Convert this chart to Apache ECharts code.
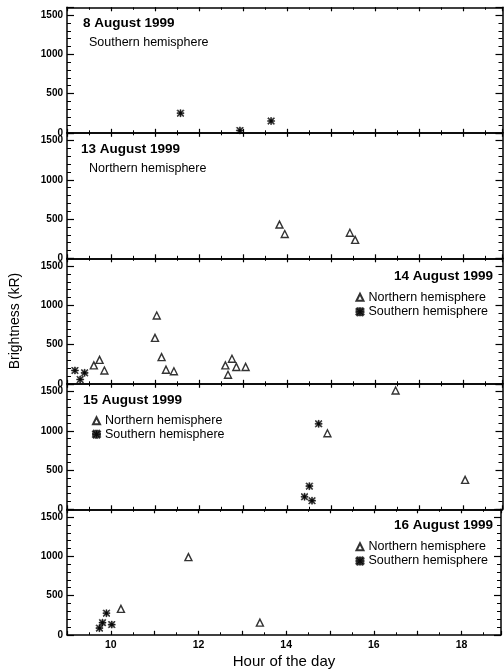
<!DOCTYPE html>
<html><head><meta charset="utf-8">
<script src="https://cdn.jsdelivr.net/npm/echarts@6/dist/echarts.min.js"></script>
<style>html,body{margin:0;padding:0;background:#fff}#c{width:504px;height:672px}</style>
</head><body><div id="c"></div>
<script>
// ---- data ----
const panelDates = ['8 August 1999', '13 August 1999', '14 August 1999', '15 August 1999', '16 August 1999'];
const seriesNames = ['Northern hemisphere', 'Southern hemisphere'];

const aug08SouthHour = [11.58, 12.93, 13.64];
const aug08SouthKR   = [250, 30, 150];

const aug13NorthHour = [13.83, 13.95, 15.43, 15.55];
const aug13NorthKR   = [430, 310, 325, 235];

const aug14NorthHour = [9.61, 9.74, 9.85, 11.00, 11.04, 11.15, 11.25, 11.43, 12.60, 12.66, 12.75, 12.85, 13.06];
const aug14NorthKR   = [235, 305, 170, 585, 870, 340, 180, 160, 235, 115, 320, 215, 215];
const aug14SouthHour = [9.18, 9.30, 9.40];
const aug14SouthKR   = [170, 55, 140];

const aug15NorthHour = [14.92, 16.47, 18.05];
const aug15NorthKR   = [970, 1515, 375];
const aug15SouthHour = [14.40, 14.51, 14.57, 14.72];
const aug15SouthKR   = [160, 295, 110, 1090];

const aug16NorthHour = [10.23, 11.77, 13.40];
const aug16NorthKR   = [330, 990, 155];
const aug16SouthHour = [9.74, 9.81, 9.90, 10.02];
const aug16SouthKR   = [85, 155, 275, 130];

const xLabelHours = [10, 12, 14, 16, 18];
const yLabelValues = [0, 500, 1000, 1500];

// ---- layout / style ----
const FONT = 'Liberation Sans';
const PANEL_TOP = 7.3, PANEL_H = 125.5, LEFT = 67, RIGHT = 1.5;
const X_MIN = 9, X_MAX = 18.9, Y_MIN = 0, Y_MAX = 1600;
const STAR = 'path://M4.2,0H5.8V10H4.2Z M0,4.2H10V5.8H0Z M1.1,0L10,8.9L8.9,10L0,1.1Z M8.9,0L10,1.1L1.1,10L0,8.9Z';
const lineStyle = { color: '#000', width: 1.5 };

const grids = [], xAxes = [], yAxes = [];
for (let k = 0; k < 5; k++) {
  grids.push({ left: LEFT, right: RIGHT, top: PANEL_TOP + k * PANEL_H, height: PANEL_H });
  const baseX = { type: 'value', gridIndex: k, min: X_MIN, max: X_MAX, splitLine: { show: false } };
  ['bottom', 'top'].forEach(pos => {
    xAxes.push(Object.assign({}, baseX, {
      position: pos, interval: 1,
      axisLine: { show: true, onZero: false, lineStyle },
      axisTick: { inside: true, length: 4, lineStyle: { color: '#000', width: 1.2 } },
      axisLabel: (pos === 'bottom' && k === 4) ? {
        show: true, margin: 5, color: '#000', fontFamily: FONT, fontSize: 10.5, fontWeight: 'bold',
        formatter: v => xLabelHours.includes(v) ? String(v) : ''
      } : { show: false },
      name: (pos === 'bottom' && k === 4) ? 'Hour of the day' : '',
      nameLocation: 'middle', nameGap: 20,
      nameTextStyle: { color: '#000', fontFamily: FONT, fontSize: 15 }
    }));
    xAxes.push(Object.assign({}, baseX, {
      position: pos, interval: 0.5,
      axisLine: { show: false, onZero: false },
      axisTick: { inside: true, length: 2.5, lineStyle: { color: '#000', width: 1 } },
      axisLabel: { show: false }
    }));
  });
  const baseY = { type: 'value', gridIndex: k, min: Y_MIN, max: Y_MAX, splitLine: { show: false } };
  ['left', 'right'].forEach(pos => {
    yAxes.push(Object.assign({}, baseY, {
      position: pos, interval: 500,
      axisLine: { show: true, onZero: false, lineStyle },
      axisTick: { inside: true, length: 7, lineStyle: { color: '#000', width: 1.2 } },
      axisLabel: pos === 'left' ? {
        show: true, margin: 4, color: '#000', fontFamily: FONT, fontSize: 10, fontWeight: 'bold',
        formatter: v => yLabelValues.includes(v) ? String(v) : ''
      } : { show: false },
      name: (pos === 'left' && k === 2) ? 'Brightness (kR)' : '',
      nameLocation: 'middle', nameGap: 45,
      nameTextStyle: { color: '#000', fontFamily: FONT, fontSize: 14 }
    }));
    yAxes.push(Object.assign({}, baseY, {
      position: pos, interval: 100,
      axisLine: { show: false, onZero: false },
      axisTick: { inside: true, length: 4, lineStyle: { color: '#000', width: 1 } },
      axisLabel: { show: false }
    }));
  });
}

function zip(h, v) { return h.map((x, i) => [x, v[i]]); }
function north(k, h, v) {
  return { type: 'scatter', name: seriesNames[0], xAxisIndex: 4 * k, yAxisIndex: 4 * k,
    symbol: 'triangle', symbolSize: 7, data: zip(h, v),
    itemStyle: { color: '#fff', borderColor: '#000', borderWidth: 1.4 } };
}
function south(k, h, v) {
  return { type: 'scatter', name: seriesNames[1], xAxisIndex: 4 * k, yAxisIndex: 4 * k,
    symbol: STAR, symbolSize: 7, data: zip(h, v),
    itemStyle: { color: '#000', borderColor: '#000', borderWidth: 0.6 } };
}
const series = [
  south(0, aug08SouthHour, aug08SouthKR),
  north(1, aug13NorthHour, aug13NorthKR),
  north(2, aug14NorthHour, aug14NorthKR),
  south(2, aug14SouthHour, aug14SouthKR),
  north(3, aug15NorthHour, aug15NorthKR),
  south(3, aug15SouthHour, aug15SouthKR),
  north(4, aug16NorthHour, aug16NorthKR),
  south(4, aug16SouthHour, aug16SouthKR)
];

const dateStyle = { color: '#000', fontFamily: FONT, fontSize: 13.5, fontWeight: 'bold', lineHeight: 14 };
const hemiStyle = { color: '#000', fontFamily: FONT, fontSize: 12.5, fontWeight: 'normal', lineHeight: 14 };
const titles = [
  { text: panelDates[0], left: 83, top: 16, padding: 0, textStyle: dateStyle },
  { text: 'Southern hemisphere', left: 89, top: 36, padding: 0, textStyle: hemiStyle },
  { text: panelDates[1], left: 81, top: 142.3, padding: 0, textStyle: dateStyle },
  { text: 'Northern hemisphere', left: 89, top: 161.3, padding: 0, textStyle: hemiStyle },
  { text: panelDates[2], right: 11, top: 269, padding: 0, textStyle: dateStyle },
  { text: panelDates[3], left: 83, top: 393, padding: 0, textStyle: dateStyle },
  { text: panelDates[4], right: 11, top: 518.7, padding: 0, textStyle: dateStyle }
];
const legendBase = {
  data: seriesNames, orient: 'vertical', itemWidth: 7, itemHeight: 7, padding: 0,
  selectedMode: false, align: 'left',
  textStyle: { color: '#000', fontFamily: FONT, fontSize: 12.5, lineHeight: 14 }
};
const legends = [
  Object.assign({}, legendBase, { right: 16, top: 290.3, itemGap: 0.5 }),
  Object.assign({}, legendBase, { left: 92, top: 413.7, itemGap: -0.5 }),
  Object.assign({}, legendBase, { right: 16, top: 539.7, itemGap: 0.3 })
];

const chart = echarts.init(document.getElementById('c'), null, { renderer: 'canvas' });
chart.setOption({
  animation: false,
  backgroundColor: '#fff',
  title: titles,
  legend: legends,
  grid: grids,
  xAxis: xAxes,
  yAxis: yAxes,
  series: series
});
</script></body></html>
